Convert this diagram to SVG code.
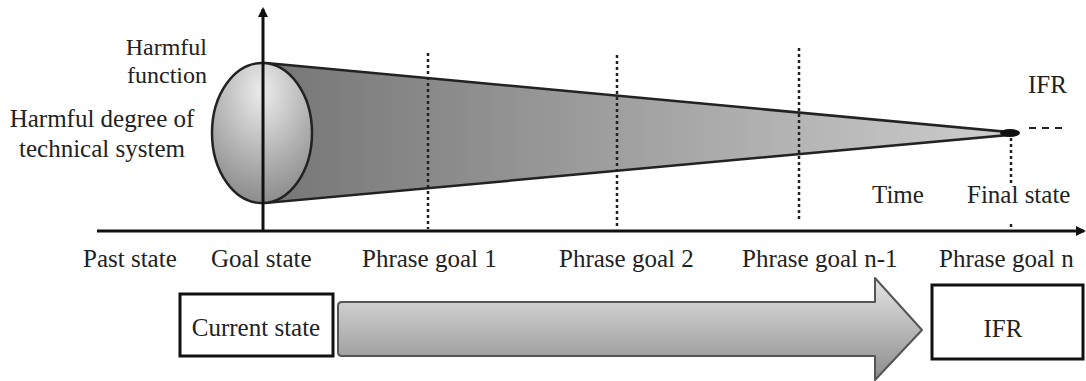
<svg xmlns="http://www.w3.org/2000/svg" width="1086" height="381" viewBox="0 0 1086 381">
  <style>
    .axis { stroke: #111; stroke-width: 3; fill: none; }
    .guide { stroke: #222; stroke-width: 2.5; stroke-dasharray: 3 3; fill: none; }
    .level { stroke: #222; stroke-width: 2; stroke-dasharray: 7 6; fill: none; }
    .box { fill: #fff; stroke: #111; stroke-width: 3; }
  </style>
  <defs>
    <linearGradient id="coneFill" x1="0" y1="0" x2="1" y2="0">
      <stop offset="0" stop-color="#767676"/>
      <stop offset="1" stop-color="#cdcdcd"/>
    </linearGradient>
    <radialGradient id="capFill" cx="0.5" cy="0.2" r="0.9">
      <stop offset="0" stop-color="#ececec"/>
      <stop offset="1" stop-color="#808080"/>
    </radialGradient>
    <linearGradient id="arrowFill" x1="0" y1="0" x2="0" y2="1">
      <stop offset="0" stop-color="#e4e4e4"/>
      <stop offset="1" stop-color="#8c8c8c"/>
    </linearGradient>
    <marker id="head" markerWidth="10" markerHeight="10" refX="8" refY="5" orient="auto" markerUnits="userSpaceOnUse">
      <path d="M0,0 L10,5 L0,10 Z" fill="#111"/>
    </marker>
  </defs>

  <!-- harmful-function cone narrowing toward the final state -->
  <g id="cone">
    <path d="M266,63 L1008,132 L1008,135 L266,203 Z" fill="url(#coneFill)" stroke="#222" stroke-width="2.5"/>
    <ellipse cx="262" cy="133" rx="50" ry="70" fill="url(#capFill)" stroke="#222" stroke-width="2.5"/>
    <ellipse cx="1010" cy="133" rx="10" ry="4" fill="#111"/>
  </g>

  <!-- phase guide lines -->
  <g id="guides">
    <line class="guide" x1="428" y1="53" x2="428" y2="229"/>
    <line class="guide" x1="617" y1="55" x2="617" y2="229"/>
    <line class="guide" x1="799" y1="48" x2="799" y2="222"/>
    <line class="guide" x1="1011" y1="138" x2="1011" y2="186"/>
    <line class="guide" x1="1011" y1="224" x2="1011" y2="229"/>
    <line class="level" x1="1029" y1="128" x2="1062" y2="128"/>
  </g>

  <!-- axes -->
  <g id="connectors">
    <line class="axis" x1="97" y1="231" x2="1084" y2="231" marker-end="url(#head)"/>
    <line class="axis" x1="263" y1="231" x2="263" y2="9" marker-end="url(#head)"/>
  </g>

  <g font-family="Liberation Serif, Times New Roman, serif" font-size="25" fill="#222">
    <g id="axis-labels">
      <text x="207" y="55" text-anchor="end" font-size="24">Harmful</text>
      <text x="207" y="83" text-anchor="end" font-size="24">function</text>
      <text x="102" y="127" text-anchor="middle">Harmful degree of</text>
      <text x="102" y="157" text-anchor="middle">technical system</text>
      <text x="1028" y="93">IFR</text>
      <text x="872" y="203">Time</text>
      <text x="967" y="203">Final state</text>
    </g>

    <g id="stage-labels">
      <text x="83" y="267">Past state</text>
      <text x="211" y="267">Goal state</text>
      <text x="362" y="267">Phrase goal 1</text>
      <text x="559" y="267">Phrase goal 2</text>
      <text x="742" y="267">Phrase goal n-1</text>
      <text x="939" y="267">Phrase goal n</text>
    </g>

    <g id="current-state">
      <rect class="box" x="180" y="294" width="153" height="62"/>
      <text x="256" y="336" text-anchor="middle">Current state</text>
    </g>

    <g id="ifr">
      <rect class="box" x="932" y="285" width="151" height="74"/>
      <text x="1003" y="337" text-anchor="middle">IFR</text>
    </g>
  </g>

  <g id="progress-arrow">
    <path d="M342,302 L875,302 L875,278 L922,330 L875,380 L875,356 L342,356 Q338,356 338,352 L338,306 Q338,302 342,302 Z" fill="url(#arrowFill)" stroke="#555" stroke-width="2" stroke-linejoin="round"/>
  </g>
</svg>
